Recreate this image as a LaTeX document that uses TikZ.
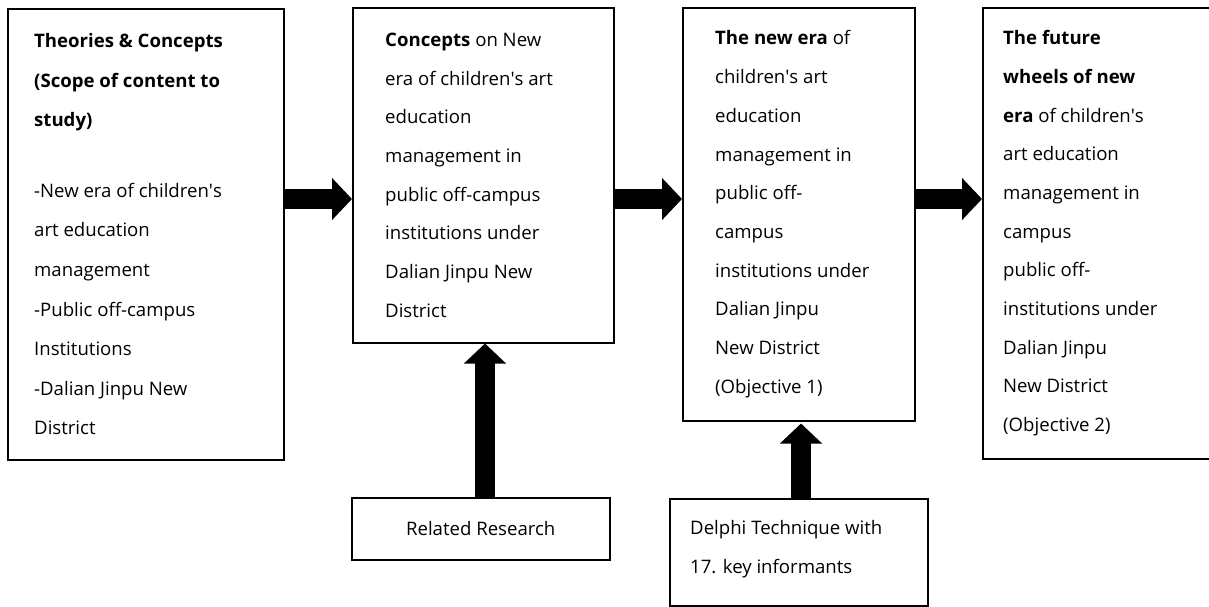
\documentclass[tikz,border=0pt]{standalone}
\usepackage{fontspec}
\setmainfont{Open Sans}
\usetikzlibrary{arrows.meta,positioning}
\newcommand{\q}{\textquotesingle}

\begin{document}
\begin{tikzpicture}[x=1pt,y=-1pt,
  box/.style={draw, line width=1.5pt, anchor=north west, inner sep=0pt},
  txt/.style={align=left, inner sep=0pt, anchor=west, font=\fontsize{18.6}{38.7}\selectfont},
  fat/.style={line width=20pt, -{Triangle[width=41pt,length=20pt]}}]
\useasboundingbox (0,0) rectangle (1209,606);
\clip (0,0) rectangle (1209,606);

% Scope of content
\node[box, minimum width=276pt, minimum height=451pt] (scope) at (7,8) {};
\node[txt, right=27pt of scope.west, font=\fontsize{18.6}{39.6}\selectfont] (scopetxt) {\textbf{Theories \& Concepts}\\\textbf{(Scope of content to}\\\textbf{study)}\\[31pt]
-New era of children\q s\\art education\\management\\-Public off-campus\\Institutions\\-Dalian Jinpu New\\District};

% Concepts
\node[box, minimum width=261pt, minimum height=335pt] (concept) at (352,7) {};
\node[txt, right=33pt of concept.west] (concepttxt) {\textbf{Concepts} on New\\era of children\q s art\\education\\management in\\public off-campus\\institutions under\\Dalian Jinpu New\\District};

% New era (Objective 1)
\node[box, minimum width=232pt, minimum height=413pt] (newera) at (682,7) {};
\node[txt, right=33pt of newera.west] (neweratxt) {\textbf{The new era} of\\children\q s art\\education\\management in\\public off-\\campus\\institutions under\\Dalian Jinpu\\New District\\(Objective 1)};

% Future wheels (Objective 2)
\node[box, minimum width=245pt, minimum height=451pt] (future) at (982,7) {};
\node[txt, right=21pt of future.west] (futuretxt) {\textbf{The future}\\\textbf{wheels of new}\\\textbf{era} of children\q s\\art education\\management in\\campus\\public off-\\institutions under\\Dalian Jinpu\\New District\\(Objective 2)};

% Inputs
\node[box, minimum width=258pt, minimum height=62pt] (related) at (351,497) {};
\node[txt, anchor=center] (relatedtxt) at (related.center) {Related Research};
\node[box, minimum width=258pt, minimum height=107pt] (delphi) at (669,498) {};
\node[txt, right=21pt of delphi.west, yshift=3pt] (delphitxt) {Delphi Technique with\\17. key informants};

% Arrows
\draw[fat] (scope.east |- 0,199) -- (concept.west |- 0,199);
\draw[fat] (concept.east |- 0,199) -- (newera.west |- 0,199);
\draw[fat] (newera.east |- 0,199) -- (future.west |- 0,199);
\draw[fat] (related.north -| 485,0) -- (concept.south -| 485,0);
\draw[fat] (delphi.north -| 801,0) -- ([yshift=-2pt]newera.south -| 801,0);
\end{tikzpicture}
\end{document}
